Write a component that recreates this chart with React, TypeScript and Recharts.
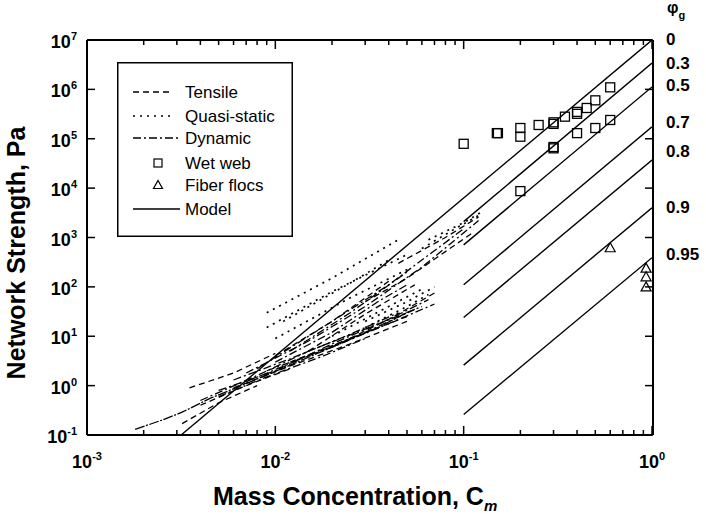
import React from 'react';
import { ComposedChart, Line, Scatter, XAxis, YAxis, Legend, Label } from 'recharts';

const FONT = '"Liberation Sans", Arial, Helvetica, sans-serif';
const W = 706;
const H = 516;
const MARGIN = { top: 39, right: 52, bottom: 80, left: 86 };

// ---------- ticks ----------
const xTicks = [
  0.001, 0.002, 0.003, 0.004, 0.005, 0.006, 0.007, 0.008, 0.009,
  0.01, 0.02, 0.03, 0.04, 0.05, 0.06, 0.07, 0.08, 0.09,
  0.1, 0.2, 0.3, 0.4, 0.5, 0.6, 0.7, 0.8, 0.9, 1,
];
const yTicks = [0.1, 1, 10, 100, 1e3, 1e4, 1e5, 1e6, 1e7];
const phiLabels = ['0', '0.3', '0.5', '0.7', '0.8', '0.9', '0.95'];
const phiLabelAt = [1.05e7, 3.5e6, 1.2e6, 2.2e5, 5.6e4, 4.2e3, 4.7e2];

// ---------- model lines ----------
const modelPhi0 = [{ x: 0.00316, y: 0.1 }, { x: 1, y: 1.0e7 }];
const modelPhi03 = [{ x: 0.1, y: 2.1e3 }, { x: 1, y: 3.4e6 }];
const modelPhi05 = [{ x: 0.1, y: 7.1e2 }, { x: 1, y: 1.12e6 }];
const modelPhi07 = [{ x: 0.1, y: 1.1e2 }, { x: 1, y: 1.74e5 }];
const modelPhi08 = [{ x: 0.1, y: 2.4e1 }, { x: 1, y: 3.7e4 }];
const modelPhi09 = [{ x: 0.1, y: 2.6 }, { x: 1, y: 4.0e3 }];
const modelPhi095 = [{ x: 0.1, y: 0.26 }, { x: 1, y: 3.9e2 }];

// ---------- tensile (dashed) ----------
const tensile1 = [{ x: 0.0035, y: 0.9 }, { x: 0.006, y: 1.8 }, { x: 0.01, y: 4.5 }];
const tensile2 = [{ x: 0.0032, y: 0.17 }, { x: 0.005, y: 0.45 }, { x: 0.008, y: 1.0 }];
const tensile3 = [{ x: 0.004, y: 0.4 }, { x: 0.007, y: 1.0 }, { x: 0.012, y: 2.2 }];
const tensile4 = [{ x: 0.012, y: 3 }, { x: 0.025, y: 9 }, { x: 0.05, y: 25 }];
const tensile5 = [{ x: 0.02, y: 6 }, { x: 0.04, y: 22 }, { x: 0.072, y: 80 }];
const tensile6 = [{ x: 0.03, y: 50 }, { x: 0.05, y: 150 }, { x: 0.11, y: 1200 }];
const tensile7 = [{ x: 0.015, y: 5 }, { x: 0.03, y: 28 }, { x: 0.055, y: 110 }];
const tensile8 = [{ x: 0.045, y: 300 }, { x: 0.08, y: 1000 }, { x: 0.12, y: 2600 }];
const tensile9 = [{ x: 0.006, y: 0.9 }, { x: 0.012, y: 2.5 }, { x: 0.025, y: 7 }, { x: 0.05, y: 20 }];
const tensile10 = [{ x: 0.01, y: 4 }, { x: 0.02, y: 20 }, { x: 0.04, y: 130 }];

// ---------- quasi-static (dotted) ----------
const quasi1 = [{ x: 0.009, y: 30 }, { x: 0.02, y: 150 }, { x: 0.045, y: 900 }];
const quasi2 = [{ x: 0.009, y: 15 }, { x: 0.02, y: 80 }, { x: 0.05, y: 450 }];
const quasi3 = [{ x: 0.01, y: 9 }, { x: 0.025, y: 60 }, { x: 0.053, y: 250 }];
const quasi4 = [{ x: 0.011, y: 20 }, { x: 0.025, y: 120 }, { x: 0.04, y: 350 }];
const quasi5 = [{ x: 0.06, y: 600 }, { x: 0.09, y: 1500 }, { x: 0.12, y: 2800 }];
const quasi6 = [{ x: 0.065, y: 900 }, { x: 0.1, y: 2000 }, { x: 0.125, y: 3300 }];
const quasi7 = [{ x: 0.02, y: 10 }, { x: 0.04, y: 40 }, { x: 0.06, y: 90 }];
const quasi8 = [{ x: 0.03, y: 15 }, { x: 0.05, y: 40 }, { x: 0.065, y: 70 }];
const quasi9 = [{ x: 0.03, y: 20 }, { x: 0.05, y: 50 }, { x: 0.07, y: 100 }];

// ---------- dynamic (dash-dot) ----------
const dynamic1 = [
  { x: 0.0018, y: 0.13 }, { x: 0.0025, y: 0.2 }, { x: 0.0032, y: 0.29 }, { x: 0.0045, y: 0.55 },
  { x: 0.007, y: 1.1 }, { x: 0.012, y: 2.6 }, { x: 0.02, y: 6 }, { x: 0.035, y: 15 }, { x: 0.05, y: 30 },
];
const dynamic2 = [{ x: 0.004, y: 0.5 }, { x: 0.008, y: 1.6 }, { x: 0.015, y: 5 }, { x: 0.03, y: 14 }, { x: 0.06, y: 40 }];
const dynamic3 = [{ x: 0.005, y: 0.8 }, { x: 0.01, y: 2 }, { x: 0.02, y: 7 }, { x: 0.04, y: 22 }, { x: 0.065, y: 55 }];
const dynamic4 = [{ x: 0.006, y: 1.3 }, { x: 0.012, y: 3.5 }, { x: 0.025, y: 11 }, { x: 0.045, y: 30 }];
const dynamic5 = [{ x: 0.007, y: 1.8 }, { x: 0.015, y: 8 }, { x: 0.03, y: 40 }, { x: 0.06, y: 250 }, { x: 0.12, y: 2200 }];
const dynamic6 = [{ x: 0.008, y: 2.2 }, { x: 0.02, y: 20 }, { x: 0.04, y: 110 }, { x: 0.1, y: 1500 }];
const dynamic7 = [{ x: 0.01, y: 3 }, { x: 0.02, y: 12 }, { x: 0.035, y: 50 }, { x: 0.05, y: 110 }];
const dynamic8 = [{ x: 0.005, y: 0.6 }, { x: 0.009, y: 1.5 }, { x: 0.018, y: 4 }, { x: 0.03, y: 9 }];
const dynamic9 = [{ x: 0.007, y: 1.2 }, { x: 0.015, y: 4 }, { x: 0.03, y: 12 }, { x: 0.055, y: 35 }];
const dynamic10 = [{ x: 0.009, y: 2 }, { x: 0.02, y: 6 }, { x: 0.04, y: 18 }, { x: 0.07, y: 45 }];
const dynamic11 = [{ x: 0.012, y: 5 }, { x: 0.025, y: 30 }, { x: 0.05, y: 200 }];

// ---------- wet web (squares) ----------
const wetWeb = [
  { x: 0.1, y: 7.9e4 },
  { x: 0.15, y: 1.3e5 }, { x: 0.152, y: 1.3e5 },
  { x: 0.2, y: 1.65e5 }, { x: 0.2, y: 1.1e5 },
  { x: 0.25, y: 1.9e5 },
  { x: 0.3, y: 2.0e5 }, { x: 0.3, y: 2.15e5 },
  { x: 0.3, y: 6.4e4 }, { x: 0.3, y: 6.8e4 },
  { x: 0.345, y: 2.8e5 },
  { x: 0.4, y: 3.2e5 }, { x: 0.4, y: 3.5e5 },
  { x: 0.4, y: 1.3e5 },
  { x: 0.45, y: 4.2e5 },
  { x: 0.5, y: 6.0e5 },
  { x: 0.5, y: 1.65e5 },
  { x: 0.6, y: 1.1e6 },
  { x: 0.6, y: 2.4e5 },
  { x: 0.2, y: 8.7e3 },
];

// ---------- fiber flocs (triangles) ----------
const fiberFlocs = [
  { x: 0.6, y: 6.2e2 },
  { x: 0.93, y: 2.4e2 },
  { x: 0.93, y: 1.6e2 },
  { x: 0.93, y: 1.0e2 },
];

const legendNames = ['Tensile', 'Quasi-static', 'Dynamic', 'Wet web', 'Fiber flocs', 'Model'];

const modelLines = [modelPhi0, modelPhi03, modelPhi05, modelPhi07, modelPhi08, modelPhi09, modelPhi095];
const tensileLines = [tensile1, tensile2, tensile3, tensile4, tensile5, tensile6, tensile7, tensile8, tensile9, tensile10];
const quasiLines = [quasi1, quasi2, quasi3, quasi4, quasi5, quasi6, quasi7, quasi8, quasi9];
const dynamicLines = [dynamic1, dynamic2, dynamic3, dynamic4, dynamic5, dynamic6, dynamic7, dynamic8, dynamic9, dynamic10, dynamic11];

const DASH_TENSILE = '6 4';
const DASH_QUASI = '2 5';
const DASH_DYNAMIC = '8 3 2 3';

const isMajor = (v: number) => Math.abs(Math.log10(v) - Math.round(Math.log10(v))) < 1e-6;
const expOf = (v: number) => Math.round(Math.log10(v));

const BottomTick = (p: any) => {
  const { x, y, payload } = p;
  const v = payload.value;
  const major = isMajor(v);
  return (
    <g>
      <line x1={x} x2={x} y1={y} y2={y - (major ? 9 : 5)} stroke="#000" strokeWidth={1.5} />
      {major && (
        <text x={x} y={y + 33} textAnchor="middle" fontFamily={FONT} fontWeight="bold" fontSize={18} fill="#000">
          10<tspan dy={-8} fontSize={11}>{String(expOf(v))}</tspan>
        </text>
      )}
    </g>
  );
};

const TopTick = (p: any) => {
  const { x, y, payload } = p;
  const major = isMajor(payload.value);
  return <line x1={x} x2={x} y1={y} y2={y + (major ? 9 : 5)} stroke="#000" strokeWidth={1.5} />;
};

const LeftTick = (p: any) => {
  const { x, y, payload } = p;
  return (
    <g>
      <line x1={x} x2={x + 8} y1={y} y2={y} stroke="#000" strokeWidth={1.5} />
      <text x={x - 10} y={y + 8} textAnchor="end" fontFamily={FONT} fontWeight="bold" fontSize={18} fill="#000">
        10<tspan dy={-8} fontSize={11}>{String(expOf(payload.value))}</tspan>
      </text>
    </g>
  );
};

const RightTick = (p: any) => {
  const { x, y } = p;
  return <line x1={x} x2={x - 8} y1={y} y2={y} stroke="#000" strokeWidth={1.5} />;
};

const PhiTick = (p: any) => {
  const { x, y, index } = p;
  return (
    <text x={x + 14} y={y + 6} textAnchor="start" fontFamily={FONT} fontWeight="bold" fontSize={17} fill="#000">
      {phiLabels[index]}
    </text>
  );
};

const Square = (p: any) => {
  const { cx, cy } = p;
  if (cx == null || cy == null) return null;
  return <rect x={cx - 4.5} y={cy - 4.5} width={9} height={9} fill="none" stroke="#000" strokeWidth={1.3} />;
};

const Triangle = (p: any) => {
  const { cx, cy } = p;
  if (cx == null || cy == null) return null;
  return (
    <path d={`M${cx},${cy - 5} L${cx + 5},${cy + 4} L${cx - 5},${cy + 4} Z`} fill="none" stroke="#000" strokeWidth={1.2} />
  );
};

const LegendBox = () => {
  const rows = [30, 54, 76, 101, 123, 147];
  return (
    <svg width={176} height={175} style={{ display: 'block' }}>
      <rect x={0.75} y={0.75} width={174.5} height={173.5} fill="#fff" stroke="#000" strokeWidth={1.5} />
      <line x1={16} x2={55} y1={rows[0]} y2={rows[0]} stroke="#000" strokeWidth={1.3} strokeDasharray={DASH_TENSILE} />
      <line x1={16} x2={55} y1={rows[1]} y2={rows[1]} stroke="#000" strokeWidth={1.6} strokeDasharray={DASH_QUASI} />
      <line x1={16} x2={63} y1={rows[2]} y2={rows[2]} stroke="#000" strokeWidth={1.3} strokeDasharray={DASH_DYNAMIC} />
      <rect x={37} y={rows[3] - 4} width={8} height={8} fill="none" stroke="#000" strokeWidth={1.2} />
      <path d={`M41,${rows[4] - 4.5} L45.5,${rows[4] + 3.5} L36.5,${rows[4] + 3.5} Z`} fill="none" stroke="#000" strokeWidth={1.2} />
      <line x1={16} x2={63} y1={rows[5]} y2={rows[5]} stroke="#000" strokeWidth={1.5} />
      {legendNames.map((n, i) => (
        <text key={n} x={68} y={rows[i] + 6} fontFamily={FONT} fontSize={17} fill="#000">
          {n}
        </text>
      ))}
    </svg>
  );
};

const XTitle = () => (
  <text x={213} y={505} fontFamily={FONT} fontWeight="bold" fontSize={25} fill="#000">
    Mass Concentration, C
    <tspan dy={6} fontSize={15} fontStyle="italic">m</tspan>
  </text>
);

const YTitle = () => (
  <text
    x={25}
    y={253}
    transform="rotate(-90 25 253)"
    textAnchor="middle"
    fontFamily={FONT}
    fontWeight="bold"
    fontSize={25}
    fill="#000"
  >
    Network Strength, Pa
  </text>
);

const PhiTitle = () => (
  <text x={667} y={13} fontFamily={FONT} fontWeight="bold" fontSize={16} fill="#000">
    φ<tspan dy={6} fontSize={11}>g</tspan>
  </text>
);

export default function App() {
  return (
    <div style={{ position: 'absolute', left: 0, top: 0, background: '#fff' }}>
      <ComposedChart width={W} height={H} margin={MARGIN}>
        <XAxis
          xAxisId={0}
          dataKey="x"
          type="number"
          scale="log"
          domain={[0.001, 1]}
          allowDataOverflow
          ticks={xTicks}
          interval={0}
          height={1}
          tickSize={0}
          tickMargin={0}
          tickLine={false}
          tick={<BottomTick />}
          axisLine={{ stroke: '#000', strokeWidth: 2 }}
        >
          <Label content={<XTitle />} />
        </XAxis>
        <XAxis
          xAxisId="top"
          orientation="top"
          dataKey="x"
          type="number"
          scale="log"
          domain={[0.001, 1]}
          allowDataOverflow
          ticks={xTicks}
          interval={0}
          height={1}
          tickSize={0}
          tickMargin={0}
          tickLine={false}
          tick={<TopTick />}
          axisLine={{ stroke: '#000', strokeWidth: 2 }}
        />
        <YAxis
          yAxisId={0}
          dataKey="y"
          type="number"
          scale="log"
          domain={[0.1, 1e7]}
          allowDataOverflow
          ticks={yTicks}
          interval={0}
          width={1}
          tickSize={0}
          tickMargin={0}
          tickLine={false}
          tick={<LeftTick />}
          axisLine={{ stroke: '#000', strokeWidth: 2 }}
        >
          <Label content={<YTitle />} />
        </YAxis>
        <YAxis
          yAxisId="right"
          orientation="right"
          type="number"
          scale="log"
          domain={[0.1, 1e7]}
          allowDataOverflow
          ticks={yTicks}
          interval={0}
          width={1}
          tickSize={0}
          tickMargin={0}
          tickLine={false}
          tick={<RightTick />}
          axisLine={{ stroke: '#000', strokeWidth: 2 }}
        />
        <YAxis
          yAxisId="phi"
          orientation="right"
          type="number"
          scale="log"
          domain={[0.1, 1e7]}
          allowDataOverflow
          ticks={phiLabelAt}
          interval={0}
          width={1}
          tickSize={0}
          tickMargin={0}
          tickLine={false}
          tick={<PhiTick />}
          axisLine={false}
        >
          <Label content={<PhiTitle />} />
        </YAxis>

        {tensileLines.map((d, i) => (
          <Line key={`t${i}`} data={d} dataKey="y" type="linear" stroke="#000" strokeWidth={1.3}
            strokeDasharray={DASH_TENSILE} dot={false} activeDot={false} isAnimationActive={false} legendType="none" />
        ))}
        {quasiLines.map((d, i) => (
          <Line key={`q${i}`} data={d} dataKey="y" type="linear" stroke="#000" strokeWidth={1.7}
            strokeDasharray={DASH_QUASI} dot={false} activeDot={false} isAnimationActive={false} legendType="none" />
        ))}
        {dynamicLines.map((d, i) => (
          <Line key={`d${i}`} data={d} dataKey="y" type="linear" stroke="#000" strokeWidth={1.3}
            strokeDasharray={i === 0 ? '10 1.5 2 1.5' : DASH_DYNAMIC} dot={false} activeDot={false}
            isAnimationActive={false} legendType="none" />
        ))}
        {modelLines.map((d, i) => (
          <Line key={`m${i}`} data={d} dataKey="y" type="linear" stroke="#000" strokeWidth={1.4}
            dot={false} activeDot={false} isAnimationActive={false} legendType="none" />
        ))}
        <Scatter data={wetWeb} dataKey="y" shape={<Square />} isAnimationActive={false} legendType="none" />
        <Scatter data={fiberFlocs} dataKey="y" shape={<Triangle />} isAnimationActive={false} legendType="none" />

        <Legend
          layout="vertical"
          align="center"
          verticalAlign="middle"
          content={<LegendBox />}
          wrapperStyle={{ position: 'absolute', left: 117, top: 62, width: 176, height: 175 }}
        />
      </ComposedChart>
    </div>
  );
}
